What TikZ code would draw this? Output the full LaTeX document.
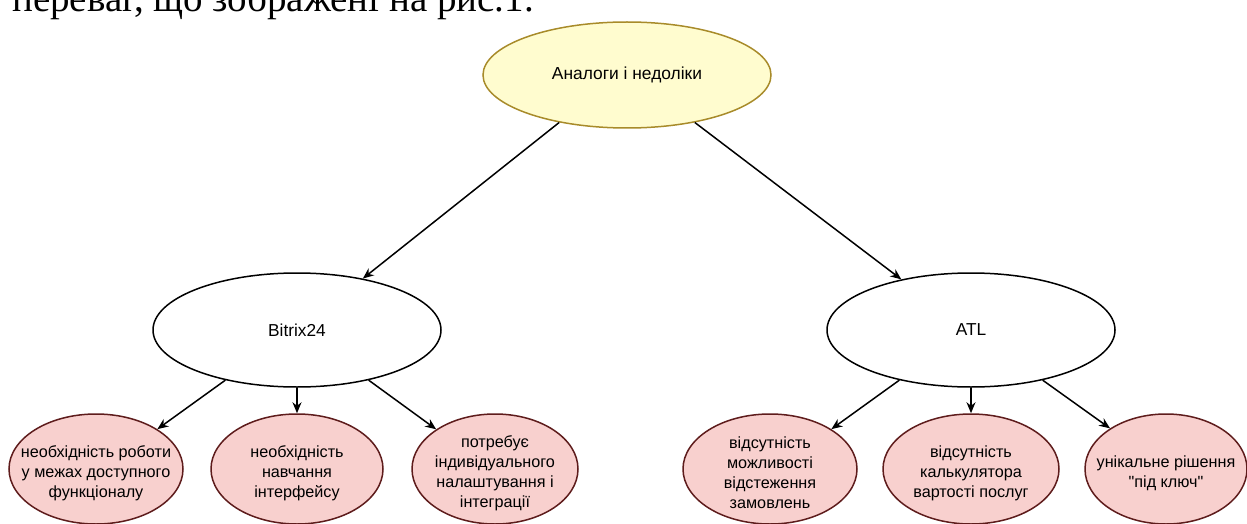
\documentclass[tikz,border=0pt]{standalone}
\usepackage{fontspec}
\setmainfont{Liberation Sans}[Ligatures=TeXOff]
\newfontfamily\serifdoc{Liberation Serif}
\usetikzlibrary{shapes.geometric, arrows.meta}
\definecolor{topfill}{HTML}{FFFCCF}
\definecolor{topline}{HTML}{A88B2A}
\definecolor{leaffill}{HTML}{F8D0CE}
\definecolor{leafline}{HTML}{5E1C1C}
\tikzset{
  base/.style={ellipse, inner sep=0pt, line width=1.5pt},
  topnode/.style={base, draw=topline, fill=topfill, minimum width=288pt, minimum height=106pt, font=\fontsize{17.4}{20}\selectfont},
  midnode/.style={base, draw=black, fill=white, minimum width=288pt, minimum height=114pt, font=\fontsize{17.3}{20}\selectfont},
  leafnode/.style={base, draw=leafline, fill=leaffill, minimum height=110pt},
  leaftext/.style={align=center, inner sep=0pt, yshift=-4pt, font=\fontsize{16.2}{20}\selectfont},
  arr/.style={-{Stealth[length=11pt,width=9pt]}, line width=1.5pt, black},
  doctext/.style={anchor=base west, inner sep=0pt, font=\serifdoc\fontsize{39}{40}\selectfont}
}
\begin{document}
\begin{tikzpicture}[x=1pt,y=-1pt]
\useasboundingbox (0,0) rectangle (1247,524);
\node[doctext] (doc) at (12,12) {переваг, що зображені на рис.1.};
\node[topnode] (top) at (627,75) {\raisebox{4pt}{Аналоги і недоліки}};
\node[midnode] (bitrix) at (297,330) {Bitrix24};
\node[midnode] (atl) at (971,330) {ATL};
\node[leafnode, minimum width=174pt, label={[leaftext]center:необхідність роботи\\у межах доступного\\функціоналу}] (l1) at (96,469) {};
\node[leafnode, minimum width=172pt, label={[leaftext]center:необхідність\\навчання\\інтерфейсу}] (l2) at (297,469) {};
\node[leafnode, minimum width=166pt, label={[leaftext]center:потребує\\індивідуального\\налаштування і\\інтеграції}] (l3) at (495,469) {};
\node[leafnode, minimum width=174pt, label={[leaftext]center:відсутність\\можливості\\відстеження\\замовлень}] (l4) at (770,469) {};
\node[leafnode, minimum width=176pt, label={[leaftext]center:відсутність\\калькулятора\\вартості послуг}] (l5) at (971,469) {};
\node[leafnode, minimum width=162pt, label={[leaftext]center:унікальне рішення\\\char34під ключ\char34}] (l6) at (1166,469) {};
\draw[arr] (top.215) -- (bitrix.38);
\draw[arr] (top.325) -- (atl.144);
\draw[arr] (bitrix.215) -- (l1.33);
\draw[arr] (bitrix.south) -- (l2.north);
\draw[arr] (bitrix.325) -- (l3.146);
\draw[arr] (atl.215) -- (l4.33);
\draw[arr] (atl.south) -- (l5.north);
\draw[arr] (atl.325) -- (l6.144);
\end{tikzpicture}
\end{document}
